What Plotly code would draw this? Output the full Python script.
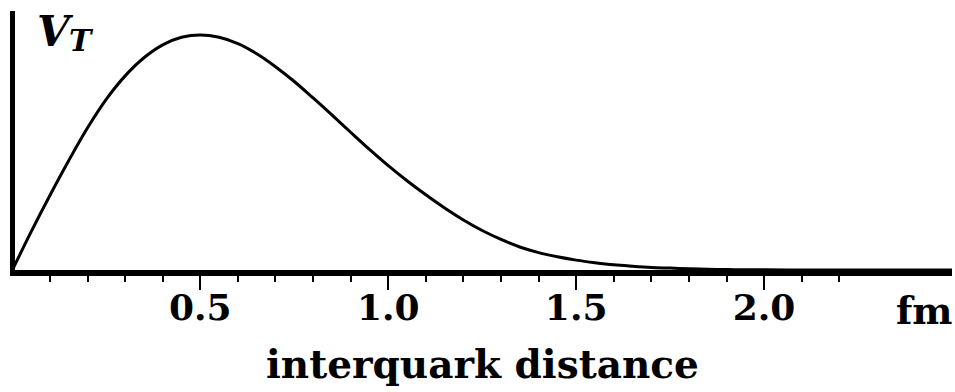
import plotly.graph_objects as go

# interquark distance (fm) and V_T (relative units)
distance = [0.00, 0.05, 0.10, 0.15, 0.20, 0.25, 0.30, 0.35, 0.40, 0.45,
            0.50, 0.55, 0.60, 0.65, 0.70, 0.75, 0.80, 0.85, 0.90, 0.95,
            1.00, 1.05, 1.10, 1.15, 1.20, 1.25, 1.30, 1.35, 1.40, 1.45,
            1.50, 1.55, 1.60, 1.65, 1.70, 1.75, 1.80, 1.85, 1.90, 1.95,
            2.00, 2.10, 2.20, 2.30, 2.40, 2.50]
v_t = [0.000, 0.163, 0.318, 0.466, 0.605, 0.727, 0.826, 0.903, 0.958, 0.990,
       1.000, 0.990, 0.963, 0.920, 0.865, 0.802, 0.732, 0.660, 0.586, 0.513,
       0.444, 0.380, 0.320, 0.264, 0.213, 0.168, 0.130, 0.098, 0.074, 0.056,
       0.042, 0.031, 0.022, 0.016, 0.011, 0.008, 0.005, 0.003, 0.002, 0.001,
       0.0007, 0.0002, 0.0, 0.0, 0.0, 0.0]

major_ticks = [0.5, 1.0, 1.5, 2.0]
major_labels = ["0.5", "1.0", "1.5", "2.0"]
minor_ticks = [0.1, 0.2, 0.3, 0.4, 0.6, 0.7, 0.8, 0.9, 1.1, 1.2, 1.3, 1.4,
               1.6, 1.7, 1.8, 1.9, 2.1, 2.2]

FONT = "DejaVu Serif"

fig = go.Figure()
fig.add_trace(go.Scatter(x=distance, y=v_t, mode="lines",
                         line=dict(color="black", width=3, shape="spline", smoothing=1.0),
                         hoverinfo="skip", showlegend=False, cliponaxis=False))

fig.update_layout(
    width=955, height=392,
    margin=dict(l=15, r=3, t=11, b=122),
    paper_bgcolor="white", plot_bgcolor="white",
    showlegend=False,
    xaxis=dict(range=[0.0069, 2.5], showgrid=False, zeroline=False,
               showline=True, linecolor="black", linewidth=6,
               tickmode="array", tickvals=major_ticks, ticktext=major_labels,
               ticks="outside", ticklen=14, tickwidth=2, tickcolor="black",
               ticklabelstandoff=-13,
               tickfont=dict(family=FONT, size=36, color="black", weight="bold"),
               minor=dict(tickvals=minor_ticks, ticks="outside", ticklen=6,
                          tickwidth=2, tickcolor="black", showgrid=False)),
    yaxis=dict(range=[0, 1.102], showgrid=False, zeroline=False,
               showline=True, linecolor="black", linewidth=5,
               showticklabels=False, ticks=""),
    annotations=[
        dict(text="<b>interquark distance</b>", xref="paper", yref="paper",
             x=0.5, y=0, xanchor="center", yanchor="top", yshift=-69, xshift=-1,
             showarrow=False, font=dict(family=FONT, size=39, color="black")),
        dict(text="<b>fm</b>", xref="x", yref="paper",
             x=2.5, y=0, xanchor="right", yanchor="top", yshift=-16, xshift=3,
             showarrow=False, font=dict(family=FONT, size=38, color="black")),
        dict(text="<b><i>V</i></b>", xref="x", yref="paper",
             x=0.06, y=1, xanchor="left", yanchor="top", yshift=6,
             showarrow=False, font=dict(family=FONT, size=42, color="black")),
        dict(text="<b><i>T</i></b>", xref="x", yref="paper",
             x=0.145, y=1, xanchor="left", yanchor="top", yshift=-10,
             showarrow=False, font=dict(family=FONT, size=30, color="black")),
    ],
)

fig.write_html("out.html")
